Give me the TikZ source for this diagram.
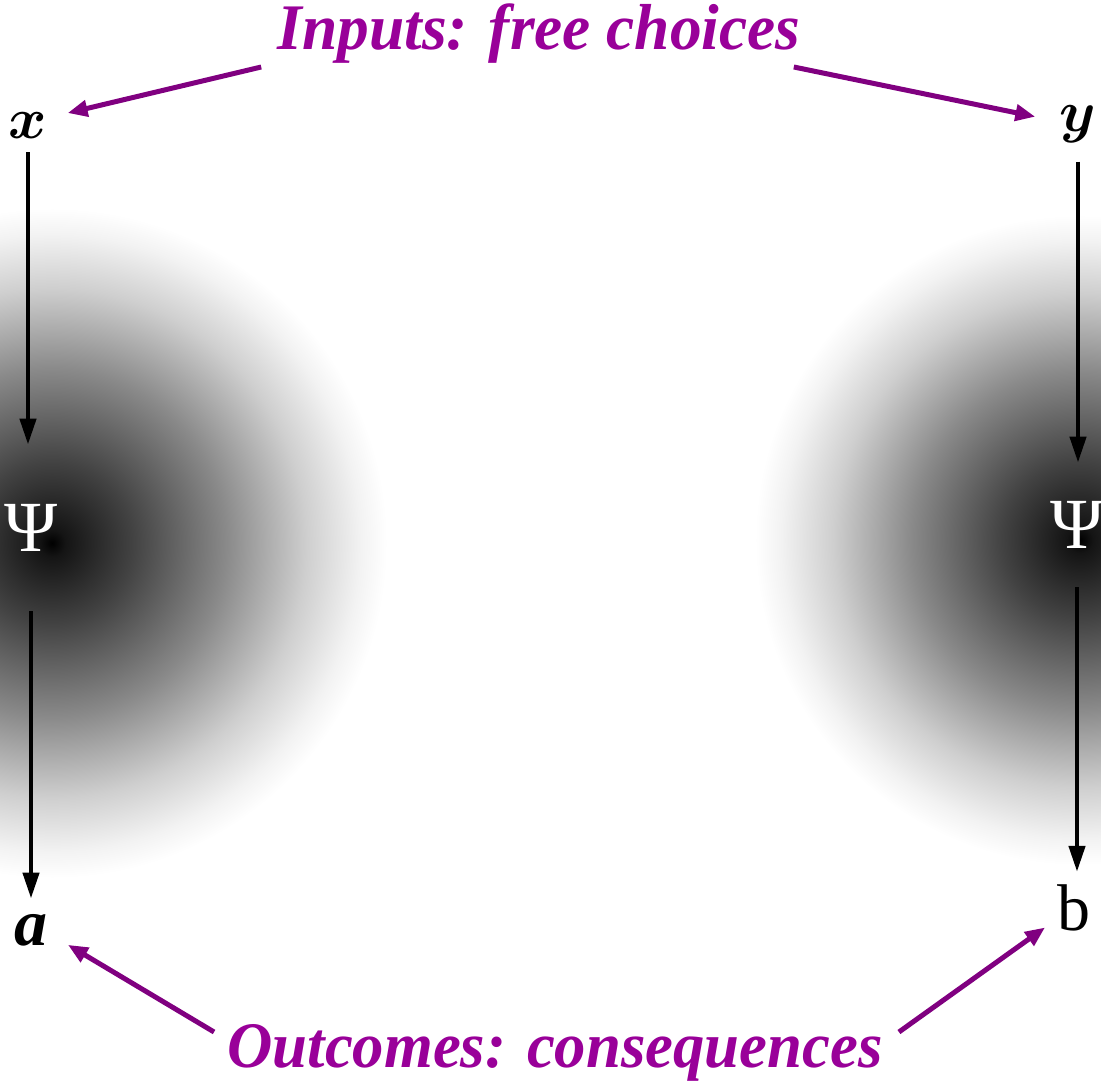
\documentclass[tikz,border=0pt]{standalone}
\usepackage{fontspec}
\setmainfont{Liberation Serif}
\usetikzlibrary{arrows.meta, positioning, calc}

\definecolor{notetext}{RGB}{153,0,153}
\definecolor{notearrow}{RGB}{128,0,128}
\pgfdeclareradialshading{psiglow}{\pgfpoint{0bp}{0bp}}{color(0bp)=(black); color(1bp)=(black!92); color(6bp)=(black!74); color(13bp)=(black!46); color(19bp)=(black!19); color(23bp)=(black!5); color(25bp)=(white); color(50bp)=(white)}
\newcommand{\bigvar}[1]{\scalebox{1.17}{$#1$}}

\begin{document}
\begin{tikzpicture}[
 x=0.5pt, y=-0.5pt,
 sym/.style={inner sep=0pt, font=\fontsize{33}{40}\selectfont},
 var/.style={sym, font=\fontsize{24.88}{30}\selectfont\boldmath},
 psi/.style={sym, text=white, font=\fontsize{36}{42}\selectfont, minimum height=83pt},
 note/.style={inner sep=0pt, text=notetext, font=\fontsize{32.5}{40}\selectfont\bfseries\itshape},
 flow/.style={-{Triangle[length=13pt, width=8pt]}, line width=2.2pt},
 pointer/.style={-{Triangle[length=10pt, width=8pt]}, line width=2.5pt, notearrow}
]
\useasboundingbox (0,0) rectangle (1101,1081);

% glow behind the two Psi
\begin{scope}
 \clip (0,0) rectangle (1101,1081);
 \shade[shading=psiglow] (52,543) circle (335);
 \shade[shading=psiglow] (1080,540) circle (325);
\end{scope}

\node[note, anchor=base] (inputs) at (539,50) {\scalebox{0.975}[1]{Inputs: free choices}};
\node[note, anchor=base] (outcomes) at (555,1067) {\scalebox{0.965}[1]{Outcomes: consequences}};

\node[var, anchor=base] (x) at (28,138) {\bigvar{x}};
\node[var, anchor=base] (y) at (1078,132) {\bigvar{y}};
\node[psi] (psiL) at (31,528) {Ψ};
\node[psi, minimum height=62pt] (psiR) at (1077,525) {Ψ};
\node[sym, anchor=base] (a) at (31,945) {\textbf{\textit{a}}};
\node[sym, anchor=base] (b) at (1074,930) {b};

\draw[flow, shorten <=7pt] (x.south) -- (x.south |- psiL.north);
\draw[flow, shorten >=7.5pt] (psiL.south) -- (psiL.south |- a.north);
\draw[flow, shorten <=9pt] (y.south) -- (y.south |- psiR.north);
\draw[flow, shorten >=6pt] (psiR.south) -- (psiR.south |- b.north);

\draw[pointer] ([shift={(-16,17)}]inputs.base west) -- ([shift={(20,-12)}]x.east);
\draw[pointer] ([shift={(-7,17)}]inputs.base east) -- ([shift={(-24,-8)}]y.west);
\draw[pointer] ([shift={(-13,-35)}]outcomes.base west) -- ([shift={(20,15)}]a.east);
\draw[pointer] ([shift={(16,-35)}]outcomes.base east) -- ([shift={(-12,20)}]b.west);
\end{tikzpicture}
\end{document}
